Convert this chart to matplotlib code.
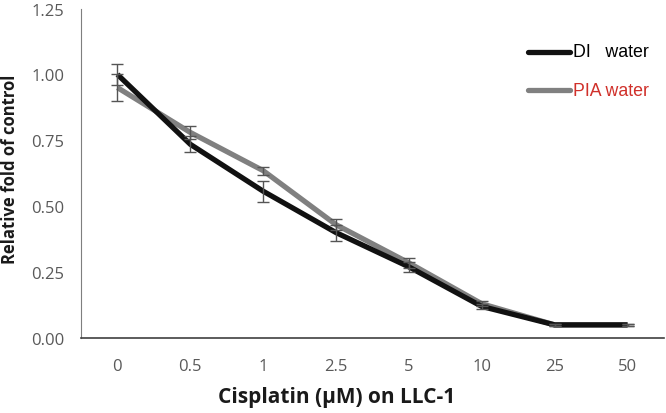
import numpy as np
import matplotlib.pyplot as plt

# data
doses = ['0', '0.5', '1', '2.5', '5', '10', '25', '50']
di_water = [1.00, 0.735, 0.557, 0.40, 0.27, 0.12, 0.05, 0.05]
di_err = [0.04, 0.03, 0.04, 0.03, 0.02, 0.01, 0.005, 0.005]
pia_water = [0.95, 0.78, 0.635, 0.43, 0.285, 0.13, 0.05, 0.05]
pia_err = [0.05, 0.025, 0.015, 0.02, 0.02, 0.01, 0.005, 0.005]

x = np.arange(len(doses))

fig = plt.figure(figsize=(6.66, 4.14), dpi=100)
ax = fig.add_axes([0.1216, 0.181, 0.8754, 0.796])

ax.plot(x, di_water, color='#111111', lw=3.8, solid_capstyle='butt', zorder=3)
ax.plot(x, pia_water, color='#808080', lw=3.8, solid_capstyle='butt', zorder=2)
ax.errorbar(x, di_water, yerr=di_err, fmt='none', ecolor='#555555',
            elinewidth=1, capsize=4, capthick=1, zorder=4)
ax.errorbar(x, pia_water, yerr=pia_err, fmt='none', ecolor='#555555',
            elinewidth=1, capsize=4, capthick=1, zorder=4)

ax.set_xlim(-0.5, len(doses) - 0.5)
ax.set_ylim(0, 1.25)
ax.set_xticks(x)
ax.set_xticklabels(doses)
ax.set_yticks([0, 0.25, 0.5, 0.75, 1.0, 1.25])
ax.set_yticklabels(['%.2f' % v for v in [0, 0.25, 0.5, 0.75, 1.0, 1.25]])
ax.tick_params(length=0, labelsize=12, labelcolor='#595959')
ax.tick_params(axis='x', pad=14)
ax.tick_params(axis='y', pad=12)
for lab in ax.get_xticklabels() + ax.get_yticklabels():
    lab.set_family('Open Sans')

for s in ['top', 'right']:
    ax.spines[s].set_visible(False)
ax.spines['left'].set_color('#7f7f7f')
ax.spines['bottom'].set_color('#404040')
ax.spines['bottom'].set_linewidth(1.2)

# x label sits left of the axis centre in the original
fig.text(337 / 666, 1 - 398 / 414, 'Cisplatin (μM) on LLC-1', fontsize=15,
         fontweight='bold', family='Open Sans', color='#1a1a1a',
         ha='center', va='center')
fig.text(10 / 666, 1 - 169 / 414, 'Relative fold of control', fontsize=12,
         fontweight='bold', family='Open Sans', color='#1a1a1a',
         ha='center', va='center', rotation=90)

# legend drawn like the original (line + text)
ax.plot([0.793, 0.856], [0.872, 0.872], transform=fig.transFigure,
        color='#111111', lw=3.8, solid_capstyle='round')
ax.plot([0.793, 0.856], [0.780, 0.780], transform=fig.transFigure,
        color='#808080', lw=3.8, solid_capstyle='round')
fig.text(0.860, 0.872, 'DI   water', fontsize=12.8, family='Liberation Sans',
         color='black', va='center')
fig.text(0.860, 0.780, 'PIA water', fontsize=12.8, family='Liberation Sans',
         color='#d0302a', va='center')

fig.savefig('out.png', dpi=100)
